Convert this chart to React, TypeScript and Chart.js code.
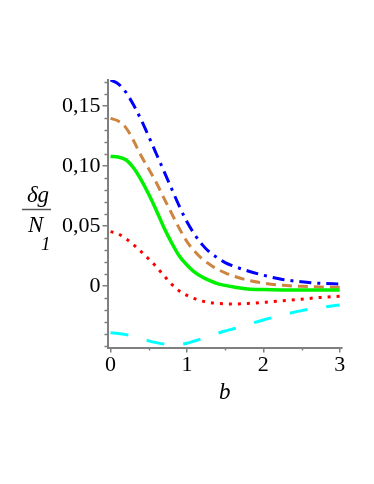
import { useEffect, useRef } from "react";
import { Chart, registerables } from "chart.js";
Chart.register(...registerables);

const bValues = [0, 0.1, 0.2, 0.3, 0.4, 0.5, 0.6, 0.7, 0.8, 0.9, 1.0, 1.1, 1.2, 1.3, 1.4, 1.5, 1.6, 1.8, 2.0, 2.25, 2.5, 2.75, 3.0];
const blueValues = [0.1717, 0.1685, 0.1615, 0.151, 0.1385, 0.1245, 0.11, 0.0955, 0.081, 0.0665, 0.0535, 0.043, 0.0345, 0.028, 0.0235, 0.0195, 0.0168, 0.0125, 0.009, 0.0055, 0.0035, 0.0022, 0.0017];
const brownValues = [0.1397, 0.1375, 0.132, 0.1212, 0.1085, 0.0975, 0.086, 0.073, 0.0605, 0.048, 0.037, 0.029, 0.0225, 0.018, 0.014, 0.011, 0.0085, 0.0048, 0.0025, 0.0006, -0.0003, -0.0008, -0.001];
const greenValues = [0.108, 0.1075, 0.1052, 0.0985, 0.0885, 0.0765, 0.063, 0.0485, 0.036, 0.025, 0.0175, 0.0115, 0.0075, 0.0045, 0.002, 0.0005, -0.0007, -0.0025, -0.003, -0.0033, -0.0034, -0.0034, -0.0033];
const redValues = [0.0453, 0.0435, 0.0395, 0.0345, 0.0286, 0.0225, 0.016, 0.0085, 0.0015, -0.0042, -0.0078, -0.0106, -0.0126, -0.0139, -0.0145, -0.0149, -0.015, -0.0145, -0.0136, -0.0124, -0.011, -0.0095, -0.0085];
const cyanValues = [-0.0389, -0.0395, -0.0405, -0.042, -0.0438, -0.0457, -0.0472, -0.0484, -0.049, -0.0488, -0.0477, -0.0458, -0.0438, -0.0416, -0.0395, -0.0375, -0.0358, -0.032, -0.0283, -0.0243, -0.0205, -0.018, -0.0158];

const xTickValues = [0, 1, 2, 3];
const xTickLabels = ["0", "1", "2", "3"];
const xMinorValues = [0.5, 1.5, 2.5];
const yTickValues = [0, 0.05, 0.1, 0.15];
const yTickLabels = ["0", "0,05", "0,10", "0,15"];
const yMinorHundredths = [-5, -4, -3, -2, -1, 1, 2, 3, 4, 6, 7, 8, 9, 11, 12, 13, 14, 16, 17];

const FONT = "'Liberation Serif', 'Times New Roman', serif";
const AXIS_GRAY = "#7f7f7f";

const toPoints = (vals: number[]) => bValues.map((b, i) => ({ x: b, y: vals[i] }));

const minorTicksPlugin = {
  id: "minorTicks",
  afterDraw(chart: any) {
    const { ctx, chartArea } = chart;
    const xs = chart.scales.x;
    const ys = chart.scales.y;
    ctx.save();
    ctx.strokeStyle = AXIS_GRAY;
    ctx.lineWidth = 1.5;
    ctx.beginPath();
    for (const h of yMinorHundredths) {
      const v = h / 100;
      if (v < ys.min || v > ys.max) continue;
      const py = Math.round(ys.getPixelForValue(v)) + 0.5;
      ctx.moveTo(chartArea.left - 3, py);
      ctx.lineTo(chartArea.left, py);
    }
    for (const v of xMinorValues) {
      const px = Math.round(xs.getPixelForValue(v)) + 0.5;
      ctx.moveTo(px, chartArea.bottom);
      ctx.lineTo(px, chartArea.bottom + 3);
    }
    ctx.stroke();
    ctx.restore();
  },
};

const yTitlePlugin = {
  id: "yTitleFraction",
  afterDraw(chart: any) {
    const { ctx } = chart;
    ctx.save();
    ctx.fillStyle = "#000";
    ctx.textBaseline = "alphabetic";
    ctx.textAlign = "center";
    ctx.font = `italic 23px ${FONT}`;
    ctx.fillText("δg", 38, 202);
    ctx.strokeStyle = "#555";
    ctx.lineWidth = 1.5;
    ctx.beginPath();
    ctx.moveTo(22, 209.5);
    ctx.lineTo(51, 209.5);
    ctx.stroke();
    ctx.textAlign = "left";
    ctx.fillText("N", 28, 232);
    ctx.font = `italic 19px ${FONT}`;
    ctx.fillText("1", 41, 250);
    ctx.restore();
  },
};

export default function App() {
  const ref = useRef<HTMLCanvasElement | null>(null);
  useEffect(() => {
    if (!ref.current) return;
    const common = {
      pointRadius: 0,
      borderWidth: 3,
      fill: false,
      cubicInterpolationMode: "monotone" as const,
    };
    const chart = new Chart(ref.current, {
      type: "line",
      data: {
        datasets: [
          { ...common, label: "cyan", data: toPoints(cyanValues), borderColor: "rgb(0,255,255)", borderDash: [18, 19] },
          { ...common, label: "red", data: toPoints(redValues), borderColor: "rgb(255,0,0)", borderDash: [3, 6] },
          { ...common, label: "green", data: toPoints(greenValues), borderColor: "rgb(0,240,0)", borderWidth: 3.5 },
          { ...common, label: "brown", data: toPoints(brownValues), borderColor: "rgb(205,133,63)", borderDash: [10, 6] },
          { ...common, label: "blue", data: toPoints(blueValues), borderColor: "rgb(0,0,255)", borderDash: [12, 6, 3, 6] },
        ],
      },
      options: {
        animation: false,
        responsive: false,
        devicePixelRatio: 1,
        layout: { padding: { left: 0, top: 80, right: 32, bottom: 79.5 } },
        plugins: { legend: { display: false }, tooltip: { enabled: false } },
        scales: {
          x: {
            type: "linear",
            min: -0.04,
            max: 3.03,
            afterBuildTicks: (s: any) => {
              s.ticks = xTickValues.map((v) => ({ value: v }));
            },
            afterFit: (s: any) => {
              s.height = 57;
            },
            ticks: {
              autoSkip: false,
              maxRotation: 0,
              padding: 0,
              color: "#000",
              font: { family: FONT, size: 22 },
              callback: (v: any) => xTickLabels[xTickValues.indexOf(Number(v))] ?? "",
            },
            grid: { display: true, drawOnChartArea: false, drawTicks: true, tickLength: 5, color: AXIS_GRAY, lineWidth: 1.5 },
            border: { display: true, color: AXIS_GRAY, width: 2 },
            title: { display: true, text: "b", color: "#000", font: { family: FONT, size: 23, style: "italic" }, padding: { top: 0, bottom: -2 } },
          },
          y: {
            type: "linear",
            min: -0.05125,
            max: 0.17167,
            afterBuildTicks: (s: any) => {
              s.ticks = yTickValues.map((v) => ({ value: v }));
            },
            afterFit: (s: any) => {
              s.width = 107.5;
            },
            ticks: {
              autoSkip: false,
              padding: 2,
              color: "#000",
              font: { family: FONT, size: 22 },
              callback: (v: any) => {
                const i = yTickValues.findIndex((t) => Math.abs(t - Number(v)) < 1e-9);
                return i >= 0 ? yTickLabels[i] : "";
              },
            },
            grid: { display: true, drawOnChartArea: false, drawTicks: true, tickLength: 5, color: AXIS_GRAY, lineWidth: 1.5 },
            border: { display: true, color: AXIS_GRAY, width: 2 },
          },
        },
      },
      plugins: [minorTicksPlugin, yTitlePlugin],
    } as any);
    return () => chart.destroy();
  }, []);
  return (
    <div style={{ position: "fixed", left: 0, top: 0, width: 374, height: 484, background: "#fff" }}>
      <canvas ref={ref} width={374} height={484} style={{ width: 374, height: 484, display: "block" }} />
    </div>
  );
}
